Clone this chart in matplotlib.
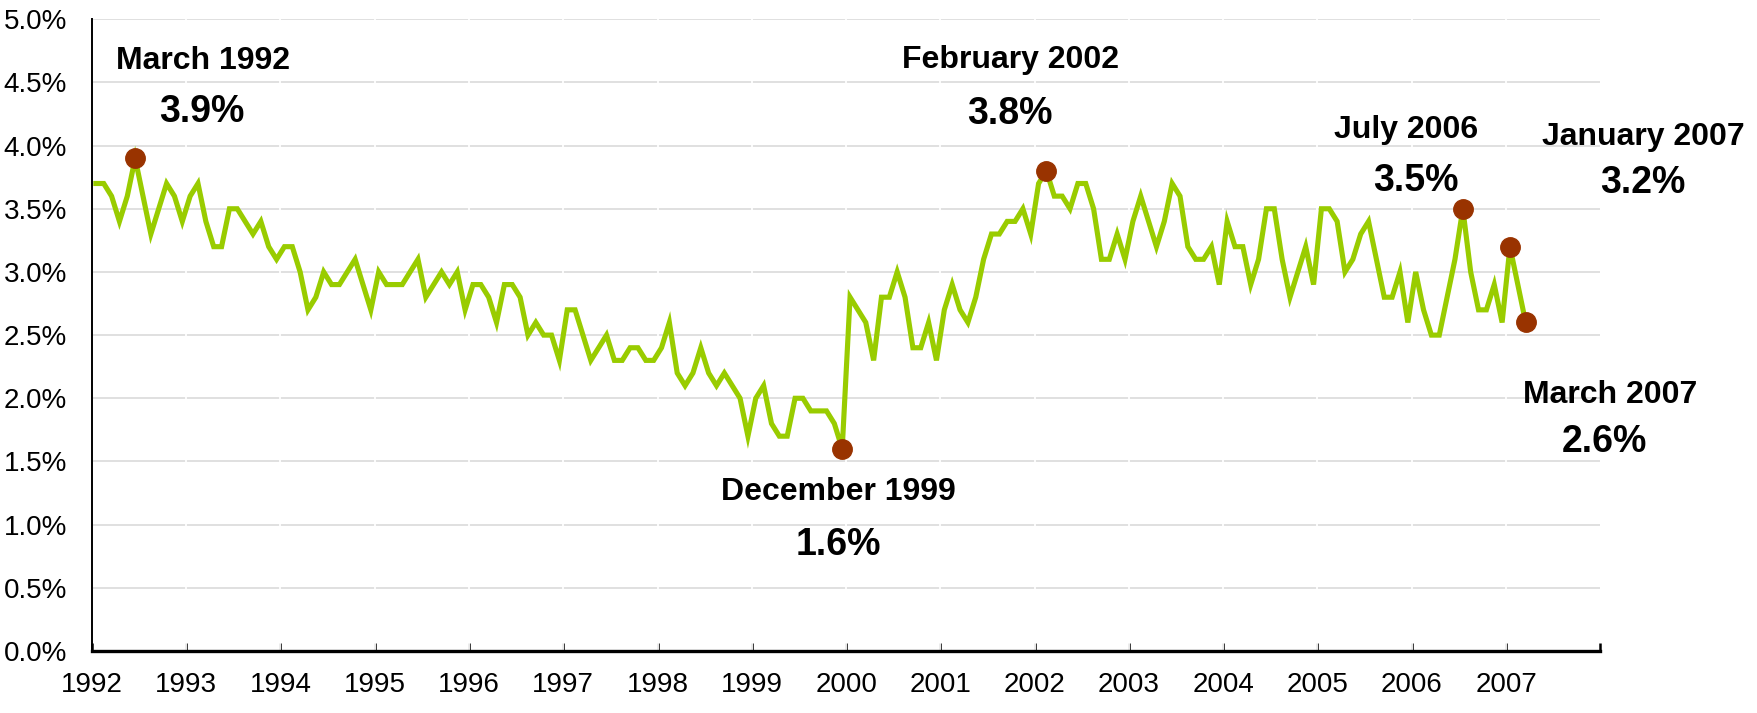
import numpy as np
import matplotlib.pyplot as plt
from matplotlib.ticker import FuncFormatter

plt.rcParams['font.family'] = ['Liberation Sans Narrow', 'Liberation Sans', 'DejaVu Sans']

# monthly rate (%), January 1992 .. March 2007
start_year = 1992
rates = [
    3.7, 3.7, 3.6, 3.4, 3.6, 3.9, 3.6, 3.3, 3.5, 3.7, 3.6, 3.4,  # 1992
    3.6, 3.7, 3.4, 3.2, 3.2, 3.5, 3.5, 3.4, 3.3, 3.4, 3.2, 3.1,  # 1993
    3.2, 3.2, 3.0, 2.7, 2.8, 3.0, 2.9, 2.9, 3.0, 3.1, 2.9, 2.7,  # 1994
    3.0, 2.9, 2.9, 2.9, 3.0, 3.1, 2.8, 2.9, 3.0, 2.9, 3.0, 2.7,  # 1995
    2.9, 2.9, 2.8, 2.6, 2.9, 2.9, 2.8, 2.5, 2.6, 2.5, 2.5, 2.3,  # 1996
    2.7, 2.7, 2.5, 2.3, 2.4, 2.5, 2.3, 2.3, 2.4, 2.4, 2.3, 2.3,  # 1997
    2.4, 2.6, 2.2, 2.1, 2.2, 2.4, 2.2, 2.1, 2.2, 2.1, 2.0, 1.7,  # 1998
    2.0, 2.1, 1.8, 1.7, 1.7, 2.0, 2.0, 1.9, 1.9, 1.9, 1.8, 1.6,  # 1999
    2.8, 2.7, 2.6, 2.3, 2.8, 2.8, 3.0, 2.8, 2.4, 2.4, 2.6, 2.3,  # 2000
    2.7, 2.9, 2.7, 2.6, 2.8, 3.1, 3.3, 3.3, 3.4, 3.4, 3.5, 3.3,  # 2001
    3.7, 3.8, 3.6, 3.6, 3.5, 3.7, 3.7, 3.5, 3.1, 3.1, 3.3, 3.1,  # 2002
    3.4, 3.6, 3.4, 3.2, 3.4, 3.7, 3.6, 3.2, 3.1, 3.1, 3.2, 2.9,  # 2003
    3.4, 3.2, 3.2, 2.9, 3.1, 3.5, 3.5, 3.1, 2.8, 3.0, 3.2, 2.9,  # 2004
    3.5, 3.5, 3.4, 3.0, 3.1, 3.3, 3.4, 3.1, 2.8, 2.8, 3.0, 2.6,  # 2005
    3.0, 2.7, 2.5, 2.5, 2.8, 3.1, 3.5, 3.0, 2.7, 2.7, 2.9, 2.6,  # 2006
    3.2, 2.9, 2.6,                                               # 2007
]
year_ticks = list(range(1992, 2009))
year_labels = [str(y) for y in range(1992, 2008)] + ['']

# highlighted points
note_idx = [5, 95, 121, 174, 180, 182]
note_month = ['March 1992', 'December 1999', 'February 2002', 'July 2006', 'January 2007', 'March 2007']
note_value = ['3.9%', '1.6%', '3.8%', '3.5%', '3.2%', '2.6%']
# text offsets in points (month label, value)
note_off = [((49, 70), (48, 33)), ((-3, -31), (-3, -69)), ((-26, 80), (-26, 41)),
            ((-41, 57), (-34, 20)), ((96, 79), (96, 46)), ((61, -52), (57, -86))]

vals = np.array(rates)
x = start_year + (np.arange(len(vals)) + 0.5) / 12

fig = plt.figure(figsize=(17.58, 7.13), dpi=100)
ax = fig.add_axes([0.0523, 0.087, 0.858, 0.886])

ax.set_axisbelow(True)
ax.yaxis.grid(True, color='#DADADA', lw=1.2)
# small breaks in the gridlines at each year
ax.vlines(year_ticks[1:-1], 0, 5, colors='white', lw=1.3, zorder=1.5)

ax.plot(x, vals, color='#99CC00', lw=3.7, zorder=2, solid_joinstyle='miter')
ax.plot(x[note_idx], vals[note_idx], 'o', ms=14, color='#993300', zorder=3)

for i, m, v, (o1, o2) in zip(note_idx, note_month, note_value, note_off):
    ax.annotate(m, (x[i], vals[i]), xytext=o1, textcoords='offset points',
                ha='center', va='center', fontsize=23, fontweight='bold')
    ax.annotate(v, (x[i], vals[i]), xytext=o2, textcoords='offset points',
                ha='center', va='center', fontsize=27, fontweight='bold')

ax.set_xlim(1992, 2008)
ax.set_ylim(0, 5)
ax.set_xticks(year_ticks)
ax.set_xticklabels(year_labels)
ax.set_yticks(np.arange(0, 5.01, 0.5))
ax.yaxis.set_major_formatter(FuncFormatter(lambda v, p: f'{v:.1f}%'))

for s in ['top', 'right']:
    ax.spines[s].set_visible(False)
ax.spines['bottom'].set_linewidth(2.4)
ax.spines['left'].set_linewidth(1.4)
ax.tick_params(axis='x', direction='in', length=5.5, width=1.8, labelsize=20, pad=15)
ax.tick_params(axis='y', length=0, labelsize=20, pad=18)

fig.savefig('out.png', dpi=100)
